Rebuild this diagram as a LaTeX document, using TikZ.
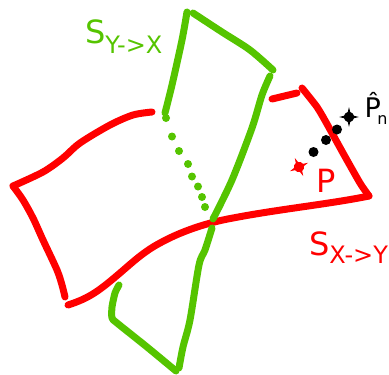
\documentclass[tikz,border=0pt]{standalone}
\usepackage{fontspec}
\setmainfont{DejaVu Sans}
\definecolor{gr}{HTML}{55C400}
\definecolor{rd}{HTML}{FF0000}
\tikzset{
 stroke/.style={line width=7pt,line cap=round,line join=round,draw=#1},
 lbl/.style={inner sep=0pt,outer sep=0pt,anchor=base west,text=#1},
 dotg/.style={circle,fill=gr,draw=none,minimum size=8pt,inner sep=0pt},
 dotk/.style={circle,fill=black,draw=none,minimum size=10pt,inner sep=0pt},
 sparkle/.pic={\fill[#1,line join=round] (0,-10) -- (1.2,-5) -- (3.6,-3.6) -- (5,-1.2) -- (10,0) -- (5,1.2) -- (3.6,3.6) -- (1.2,5) -- (0,10) -- (-1.2,5) -- (-3.6,3.6) -- (-5,1.2) -- (-10,0) -- (-5,-1.2) -- (-3.6,-3.6) -- (-1.2,-5) -- cycle;}
}
\newcommand{\bigS}{\fontsize{32pt}{32pt}\selectfont}
\newcommand{\subS}{\fontsize{24pt}{24pt}\selectfont}
\begin{document}
\begin{tikzpicture}[x=1pt,y=-1pt]
\useasboundingbox (0,0) rectangle (389,375);
% red surface
\draw[stroke=rd] plot[smooth,tension=0.5] coordinates {(152,112) (133,115) (110,125) (80,143) (63,158) (43,172) (13,186)};
\draw[stroke=rd] plot[smooth,tension=0.5] coordinates {(13,186) (23,200) (33,218) (43,240) (57,270) (62,285) (65,297)};
\draw[stroke=rd] (68,305) .. controls (90,298) and (100,290) .. (120,273)
  .. controls (135,260) and (145,251) .. (160,243)
  .. controls (180,232) and (205,223) .. (233,218)
  .. controls (280,209) and (330,204) .. (369,196);
\draw[stroke=rd] plot[smooth,tension=0.4] coordinates {(369,196) (360,183) (343,153) (327,124) (317,107) (302,88)};
\draw[stroke=rd] (297,93) -- (272,99);
% green surface
\draw[stroke=gr] plot[smooth,tension=0.5] coordinates {(165,113) (172,85) (182,40) (187,12)};
\draw[stroke=gr] plot[smooth,tension=0.5] coordinates {(193,13) (222,32) (250,50) (273,70)};
\draw[stroke=gr] plot[smooth,tension=0.5] coordinates {(270,76) (262,95) (252,128) (232,180) (213,219)};
\draw[stroke=gr] plot[smooth,tension=0.5] coordinates {(212,228) (205,250) (199,265) (190,320) (183,347) (179,368)};
\draw[stroke=gr] plot[smooth,tension=0.4] coordinates {(176,371) (147,347) (117,323) (112,318) (112,307) (115,293) (119,285)};
% dotted part
\node[dotg] (g1) at (166,118) {};
\node[dotg] (g2) at (172,136.5) {};
\node[dotg] (g3) at (179,151) {};
\node[dotg] (g4) at (188,164) {};
\node[dotg] (g5) at (192,176.5) {};
\node[dotg] (g6) at (198,186.5) {};
\node[dotg] (g7) at (202,197) {};
\node[dotg] (g8) at (205,207) {};
% black dots
\node[dotk] (k1) at (313.5,152) {};
\node[dotk] (k2) at (326,140) {};
\node[dotk] (k3) at (337,129.5) {};
% stars
\pic at (349,117) {sparkle=black};
\pic[rotate=25] at (299,167) {sparkle=rd};
% labels
\node[lbl=gr] (sy) at (85,43) {\bigS S\raisebox{-10pt}{\subS Y->X}};
\node[lbl=rd] (sx) at (309,255) {\bigS S\raisebox{-8pt}{\subS X->Y}};
\node[lbl=rd] (p) at (316,192) {\bigS P};
\node[lbl=black] (ph) at (364.5,117) {\fontsize{27pt}{27pt}\selectfont P^^^^0302\kern-3.5pt\raisebox{-7pt}{\fontsize{16pt}{16pt}\selectfont n}};
\end{tikzpicture}
\end{document}
